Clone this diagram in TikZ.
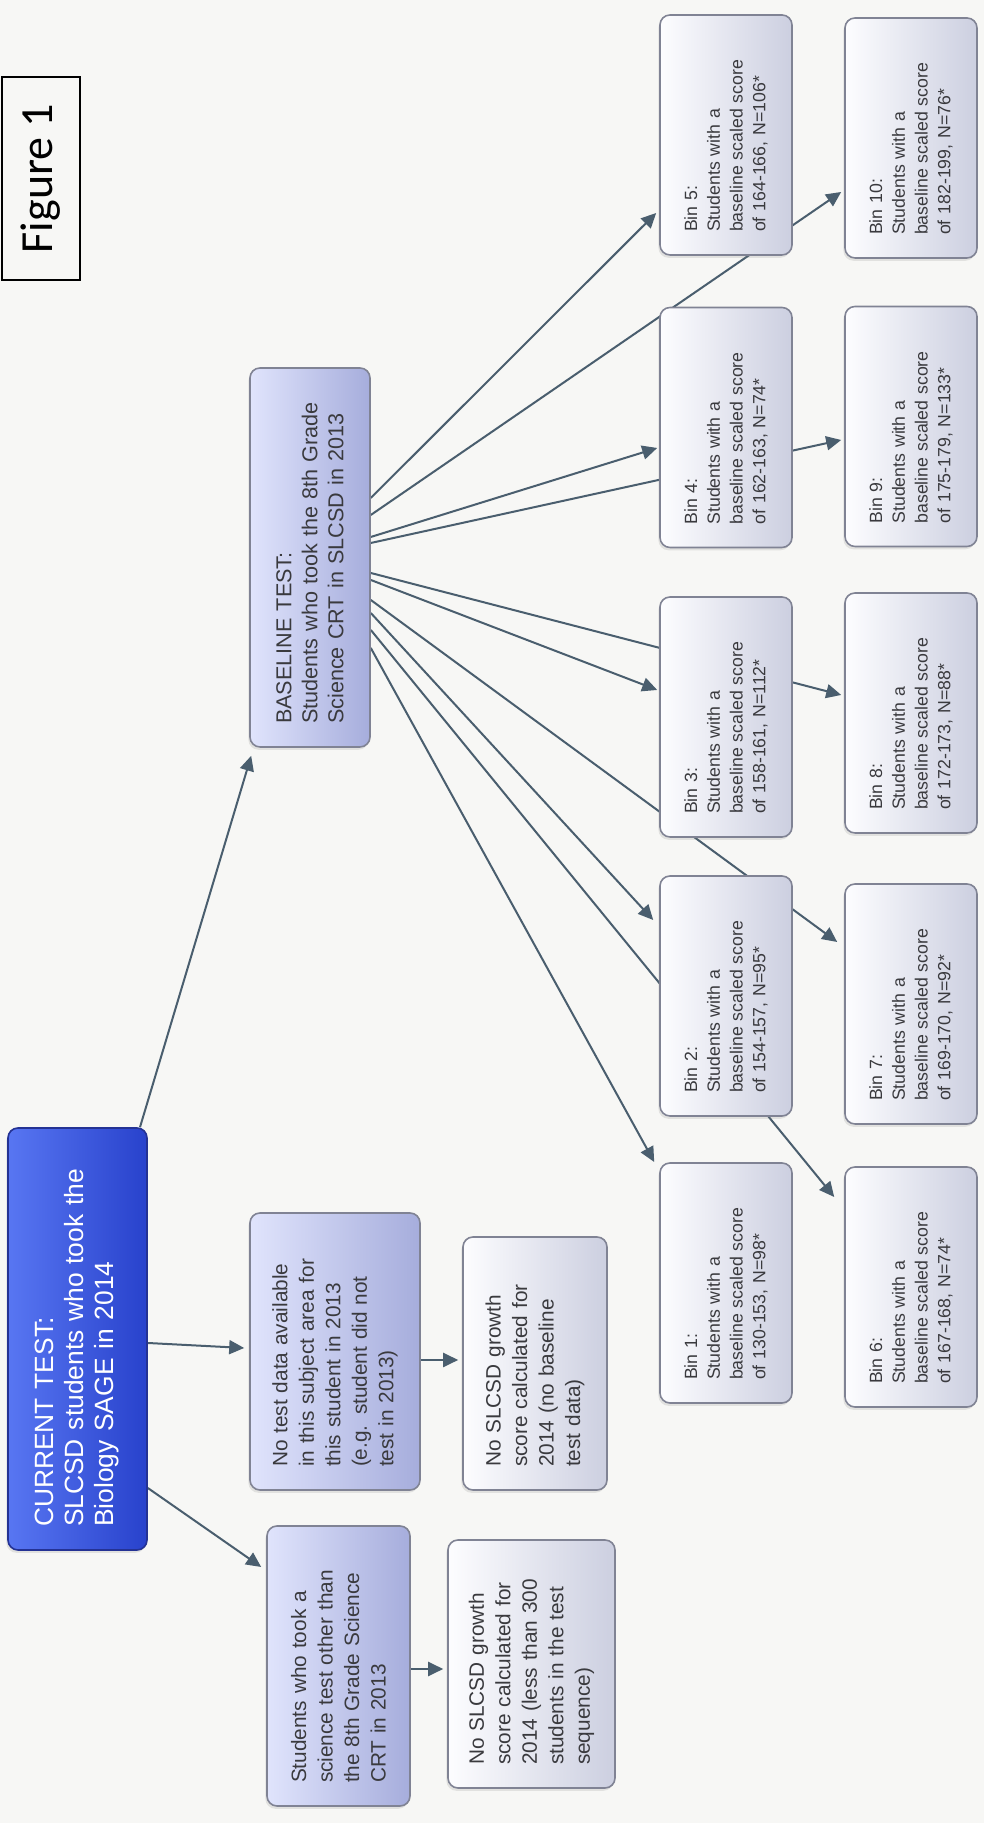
\documentclass[tikz,border=0pt]{standalone}
\usepackage{fontspec}
\setmainfont{Liberation Sans}
\newfontfamily\figfont{Carlito}
\usetikzlibrary{arrows.meta,calc,backgrounds,shadows}

\definecolor{bgc}{RGB}{247,247,245}
\definecolor{linec}{RGB}{74,94,110}
\definecolor{edgec}{RGB}{128,131,148}
\definecolor{txtc}{RGB}{58,58,62}
\definecolor{lavtop}{RGB}{224,228,252}
\definecolor{lavmid}{RGB}{200,205,242}
\definecolor{lavbot}{RGB}{166,173,220}
\definecolor{paletop}{RGB}{253,253,255}
\definecolor{palemid}{RGB}{236,237,246}
\definecolor{palebot}{RGB}{204,207,224}
\definecolor{curtop}{RGB}{88,118,242}
\definecolor{curbot}{RGB}{40,66,204}
\definecolor{curedge}{RGB}{36,50,148}

\begin{document}
\begin{tikzpicture}[x=0.5pt,y=0.5pt,rotate=90,transform shape,>={Triangle[length=7.5pt,width=7pt]}]
	\tikzset{box/.style = {rectangle,rounded corners=5pt,draw=edgec,line width=0.8pt,align=left,
		inner xsep=11.5pt,inner ysep=0pt,text=txtc,
		drop shadow={opacity=0.18,shadow xshift=-0.8pt,shadow yshift=-1.4pt}}}
	\tikzset{lav/.style = {box,left color=lavtop,middle color=lavmid,right color=lavbot}}
	\tikzset{pale/.style = {box,left color=paletop,middle color=palemid,right color=palebot}}
	\tikzset{midtext/.style = {font=\fontsize{10.4pt}{13.25pt}\selectfont}}
	\tikzset{bin/.style = {pale,minimum width=120pt,minimum height=66pt,text width=97pt,
		font=\fontsize{8.85pt}{11.35pt}\selectfont}}
	\tikzset{arr/.style = {->,draw=linec,fill=linec,line width=1pt}}

	\useasboundingbox (0,0) rectangle (1823,-984);

	% vertices
	\node[draw=black,line width=0.6pt,minimum width=101.5pt,minimum height=39pt,inner sep=0pt,
		font=\figfont\fontsize{23pt}{27pt}\selectfont] (fig) at (1644.5,-41) {Figure 1};

	\node[box,left color=curtop,right color=curbot,draw=curedge,text=white,
		minimum width=211pt,minimum height=69.5pt,text width=188pt,
		font=\fontsize{13.2pt}{15pt}\selectfont] (cur) at (484,-77.5)
		{CURRENT TEST:\\SLCSD students who took the\\Biology SAGE in 2014};

	\node[lav,midtext,minimum width=138.5pt,minimum height=85pt,text width=115.5pt] (notest) at (471.5,-335)
		{No test data available\\in this subject area for\\this student in 2013\\(e.g. student did not\\test in 2013)};
	\node[pale,midtext,minimum width=126.5pt,minimum height=72pt,text width=103.5pt] (nobase) at (459.5,-535)
		{No SLCSD growth\\score calculated for\\2014 (no baseline\\test data)};
	\node[lav,midtext,minimum width=140pt,minimum height=71.5pt,text width=117pt] (other) at (157,-338.5)
		{Students who took a\\science test other than\\the 8th Grade Science\\CRT in 2013};
	\node[pale,midtext,minimum width=124pt,minimum height=83.5pt,text width=101pt] (nosize) at (159,-531.5)
		{No SLCSD growth\\score calculated for\\2014 (less than 300\\students in the test\\sequence)};

	\node[lav,minimum width=189.5pt,minimum height=60pt,text width=166.5pt,
		font=\fontsize{10.8pt}{13pt}\selectfont] (base) at (1265.5,-310)
		{BASELINE TEST:\\Students who took the 8th Grade\\Science CRT in SLCSD in 2013};

	% bins
	\foreach \n/\u/\d/\r/\N in {1/540/726/130-153/98, 2/827/726/154-157/95, 3/1106/726/158-161/112,
		4/1395.5/726/162-163/74, 5/1688/726/164-166/106, 6/536/911/167-168/74, 7/819/911/169-170/92,
		8/1110/911/172-173/88, 9/1396.5/911/175-179/133, 10/1685/911/182-199/76}
		\node[bin] (bin\n) at (\u,-\d) {Bin \n:\\Students with a\\baseline scaled score\\of \r, N=\N*};

	%edges
	\begin{pgfonlayer}{background}
	\fill[bgc] (0,0) rectangle (1823,-984);
	\draw[arr] ($(cur.east)+(0,-62.5)$) -- ($(base.north west)+(-8,-2)$);
	\draw[arr] ($(cur.south)+(-4,0)$) -- ($(notest.north)+(3.5,5)$);
	\draw[arr] ($(cur.south)+(-149,0)$) -- ($(other.north)+(99,5)$);
	\draw[arr] ($(notest.south)+(-8.5,0)$) -- ($(nobase.north)+(3.5,4)$);
	\draw[arr] ($(other.south)+(-3,0)$) -- ($(nosize.north)+(-5,4)$);
	\foreach \b/\s/\e/\g in {bin5/59.5/-78/3, bin10/42.5/-54/3, bin4/20.5/-20.5/2, bin9/14.5/-13.5/3,
		bin8/-15.5/18/3, bin3/-22.5/27/2, bin7/-42.5/62/7, bin2/-55.5/76/6, bin6/-72.5/90/10, bin1/-90.5/121/5}
		\draw[arr] ($(base.south)+(\s,0)$) -- ($(\b.north)+(\e,\g)$);
	\end{pgfonlayer}

\end{tikzpicture}
\end{document}
